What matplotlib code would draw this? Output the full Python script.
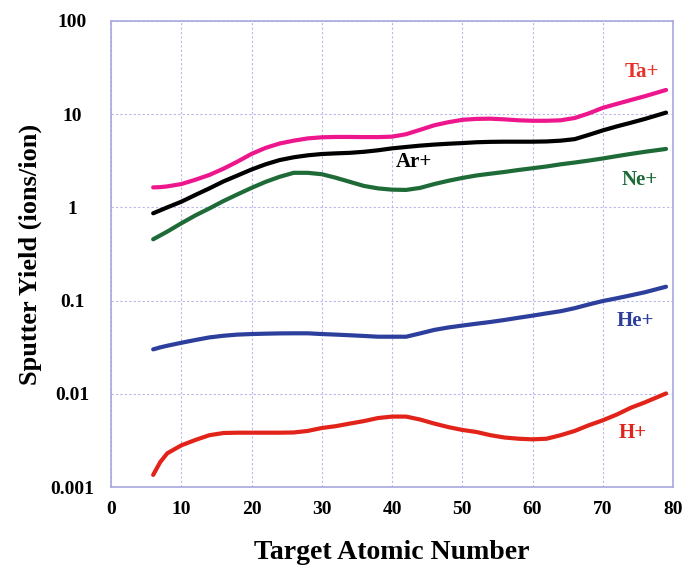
import numpy as np
import matplotlib.pyplot as plt

# target atomic number samples
z = [6, 7, 8, 10, 12, 14, 16, 18, 20, 22, 24, 26, 28, 30, 32, 34, 36, 38, 40,
     42, 44, 46, 48, 50, 52, 54, 56, 58, 60, 62, 64, 66, 68, 70, 72, 74, 76, 79]

ta = [1.64, 1.65, 1.68, 1.78, 1.98, 2.23, 2.6, 3.1, 3.75, 4.35, 4.85, 5.2, 5.5, 5.65, 5.7, 5.7, 5.68, 5.68, 5.74,
      6.1, 6.8, 7.6, 8.2, 8.7, 8.9, 8.95, 8.8, 8.6, 8.5, 8.5, 8.6, 9.1, 10.2, 11.7, 12.9, 14.2, 15.6, 18.2]
ar = [0.865, 0.93, 1.0, 1.15, 1.36, 1.6, 1.9, 2.2, 2.55, 2.9, 3.22, 3.45, 3.62, 3.74, 3.8, 3.85, 3.95, 4.1, 4.3,
      4.45, 4.6, 4.72, 4.82, 4.9, 5.0, 5.05, 5.07, 5.07, 5.07, 5.1, 5.2, 5.4, 6.0, 6.7, 7.4, 8.1, 8.9, 10.4]
ne = [0.455, 0.5, 0.55, 0.675, 0.82, 0.975, 1.17, 1.38, 1.62, 1.88, 2.13, 2.35, 2.35, 2.27, 2.08, 1.88, 1.7, 1.6, 1.55,
      1.54, 1.62, 1.78, 1.93, 2.07, 2.2, 2.3, 2.4, 2.52, 2.63, 2.75, 2.9, 3.03, 3.18, 3.35, 3.55, 3.75, 3.95, 4.24]
he = [0.030, 0.0315, 0.0328, 0.0353, 0.0378, 0.0403, 0.042, 0.0432, 0.0438, 0.0442, 0.0445, 0.0446, 0.0446,
      0.0438, 0.0432, 0.0425, 0.0418, 0.041, 0.041, 0.041, 0.0445, 0.0485, 0.0515, 0.054, 0.0565, 0.059, 0.062,
      0.0655, 0.069, 0.073, 0.077, 0.083, 0.091, 0.099, 0.106, 0.114, 0.123, 0.141]
h = [0.00135, 0.00185, 0.0023, 0.0028, 0.0032, 0.0036, 0.0038, 0.00383, 0.00383, 0.00383, 0.00383, 0.00385,
     0.004, 0.0043, 0.0045, 0.0048, 0.0051, 0.0055, 0.0057, 0.0057, 0.0053, 0.0048, 0.0044, 0.0041, 0.0039,
     0.0036, 0.0034, 0.0033, 0.00325, 0.0033, 0.0036, 0.004, 0.0046, 0.0052, 0.006, 0.0071, 0.0081, 0.0101]

series = [
    (ta, '#ee168c', 'Ta+', 75.5, 28.5, '#e8332a'),
    (ar, '#000000', 'Ar+', 43.1, 3.1, '#000000'),
    (ne, '#1e6b38', 'Ne+', 75.2, 1.97, '#1e6b38'),
    (he, '#2d3f9c', 'He+', 74.7, 0.061, '#2d3f9c'),
    (h, '#e2231a', 'H+', 74.3, 0.0038, '#e2231a'),
]

plt.rcParams['font.family'] = ['Liberation Serif', 'DejaVu Serif']

fig = plt.figure(figsize=(6.84, 5.67), dpi=100)
ax = fig.add_axes([0.1623, 0.141, 0.8217, 0.822])

for vals, col, lab, lx, ly, tcol in series:
    ax.plot(z, vals, color=col, lw=3, solid_capstyle='round', solid_joinstyle='round')
    ax.text(lx, ly, lab, color=tcol, fontsize=15, fontweight='bold', ha='center', va='center')

ax.set_yscale('log')
ax.set_xlim(0, 80)
ax.set_ylim(0.001, 100)
ax.set_xticks(range(0, 81, 10))
ax.set_yticks([0.001, 0.01, 0.1, 1, 10, 100])
ax.set_yticklabels(['0.001', '0.01', '0.1', '1', '10', '100'])
ax.minorticks_off()
ax.tick_params(length=0, labelsize=14)
ax.tick_params(axis='x', pad=10)
ax.tick_params(axis='y', pad=28)
for lbl in ax.get_xticklabels() + ax.get_yticklabels():
    lbl.set_fontweight('bold')
for lbl in ax.get_yticklabels():
    lbl.set_horizontalalignment('center')

ax.grid(True, color='#b8b8ea', ls=(0, (2, 2)), lw=0.8)
for sp in ax.spines.values():
    sp.set_color('#a8a8e0')
    sp.set_linewidth(1.2)

ax.set_xlabel('Target Atomic Number', fontsize=20, fontweight='bold', labelpad=16)
ax.set_ylabel('Sputter Yield (ions/ion)', fontsize=19, fontweight='bold', labelpad=6)

fig.savefig('out.png', dpi=100)
